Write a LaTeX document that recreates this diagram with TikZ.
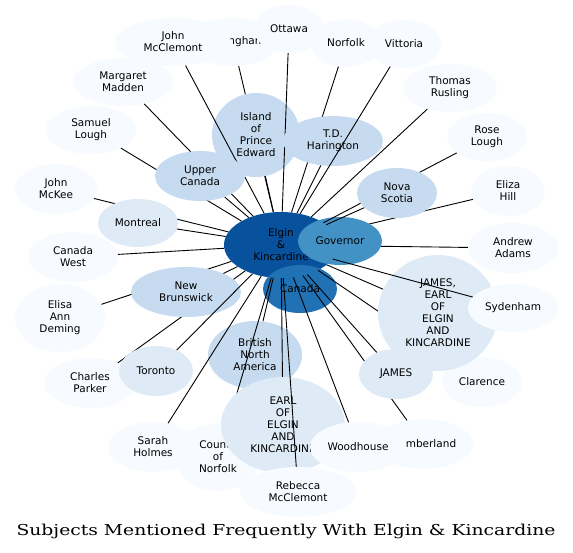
\documentclass[tikz,border=0pt]{standalone}
\usepackage{fontspec}
\setmainfont{DejaVu Sans}
\newfontfamily\titlefont{DejaVu Serif}
\usepackage{tikz}
\usetikzlibrary{shapes.geometric}
\definecolor{blhub}{RGB}{8,81,156}
\definecolor{blcan}{RGB}{33,113,181}
\definecolor{blgov}{RGB}{66,146,198}
\definecolor{blmid}{RGB}{198,219,239}
\definecolor{bllight}{RGB}{222,235,247}
\definecolor{blfaint}{RGB}{247,251,255}

\begin{document}
\begin{tikzpicture}[
    x=1pt, y=-1pt,
    topic/.style={
        ellipse, inner sep=0pt, align=center,
        font=\fontsize{10.5}{12}\selectfont
    },
    wh/.style 2 args={minimum width=#1pt, minimum height=#2pt},
    hub/.style={topic, fill=blhub},
    canada/.style={topic, fill=blcan},
    gov/.style={topic, fill=blgov},
    mid/.style={topic, fill=blmid},
    light/.style={topic, fill=bllight},
    faint/.style={topic, fill=blfaint},
    link/.style={draw=black, line width=0.9pt}
]
\useasboundingbox (0,0) rectangle (573,552);

\node[hub, wh={114}{66}] (elgin) at (281,245) {Elgin\\\&\\Kincardine};
\node[canada, wh={74}{48}] (canada) at (300,289) {Canada};

\node[faint, wh={92}{48}] (walsingham) at (233,42) {Walsingham};
\draw[link] (elgin) -- (walsingham);
\node[faint, wh={90}{48}] (slough) at (91,130) {Samuel\\Lough};
\draw[link] (elgin) -- (slough);
\node[faint, wh={100}{48}] (mmadden) at (123,82) {Margaret\\Madden};
\draw[link] (elgin) -- (mmadden);
\node[mid, wh={88}{84}] (island) at (256,135) {Island\\of\\Prince\\Edward};
\draw[link] (elgin) -- (island);
\node[faint, wh={116}{48}] (jmcclemont) at (173,42) {John\\McClemont};
\draw[link] (elgin) -- (jmcclemont);
\node[mid, wh={90}{50}] (upper) at (200,176) {Upper\\Canada};
\draw[link] (elgin) -- (upper);
\node[faint, wh={70}{48}] (ottawa) at (289,29) {Ottawa};
\draw[link] (elgin) -- (ottawa);
\node[faint, wh={70}{48}] (norfolk) at (346,43) {Norfolk};
\draw[link] (elgin) -- (norfolk);
\node[mid, wh={100}{50}] (harington) at (333,141) {T.D.\\Harington};
\draw[link] (elgin) -- (harington);
\node[faint, wh={74}{48}] (vittoria) at (404,44) {Vittoria};
\draw[link] (elgin) -- (vittoria);
\node[faint, wh={94}{48}] (rusling) at (450,88) {Thomas\\Rusling};
\draw[link] (elgin) -- (rusling);

\node[faint, wh={82}{50}] (mckee) at (56,189) {John\\McKee};
\draw[link] (elgin) -- (mckee);
\node[light, wh={80}{48}] (montreal) at (138,223) {Montreal};
\draw[link] (elgin) -- (montreal);
\node[faint, wh={90}{50}] (cwest) at (73,257) {Canada\\West};
\draw[link] (elgin) -- (cwest);
\node[faint, wh={90}{68}] (deming) at (60,318) {Elisa\\Ann\\Deming};
\draw[link] (elgin) -- (deming);
\node[faint, wh={92}{50}] (parker) at (90,383) {Charles\\Parker};
\draw[link] (elgin) -- (parker);
\node[mid, wh={110}{50}] (brunswick) at (186,292) {New\\Brunswick};
\draw[link] (elgin) -- (brunswick);
\node[light, wh={74}{50}] (toronto) at (156,371) {Toronto};
\draw[link] (elgin) -- (toronto);

\node[mid, wh={94}{68}] (bna) at (255,355) {British\\North\\America};
\draw[link] (elgin) -- (bna);
\node[faint, wh={90}{50}] (holmes) at (153,447) {Sarah\\Holmes};
\draw[link] (elgin) -- (holmes);
\node[faint, wh={84}{68}] (county) at (218,457) {County\\of\\Norfolk};
\draw[link] (elgin) -- (county);
\node[light, wh={124}{96}] (earl) at (283,425) {EARL\\OF\\ELGIN\\AND\\KINCARDINE};
\draw[link] (elgin) -- (earl);
\node[faint, wh={116}{50}] (rmcclemont) at (298,492) {Rebecca\\McClemont};
\draw[link] (elgin) -- (rmcclemont);
\node[faint, wh={98}{50}] (cumberland) at (424,444) {Cumberland};
\draw[link] (elgin) -- (cumberland);
\node[faint, wh={96}{50}] (woodhouse) at (358,447) {Woodhouse};
\draw[link] (elgin) -- (woodhouse);
\node[faint, wh={80}{50}] (clarence) at (482,382) {Clarence};
\draw[link] (elgin) -- (clarence);
\node[light, wh={120}{116}] (jearl) at (438,313) {JAMES,\\EARL\\OF\\ELGIN\\AND\\KINCARDINE};
\draw[link] (elgin) -- (jearl);
\node[light, wh={74}{50}] (james) at (396,374) {JAMES};
\draw[link] (elgin) -- (james);

\node[faint, wh={74}{50}] (ehill) at (508,191) {Eliza\\Hill};
\draw[link] (elgin) -- (ehill);
\node[faint, wh={90}{50}] (aadams) at (513,248) {Andrew\\Adams};
\draw[link] (elgin) -- (aadams);
\node[gov, wh={84}{48}] (governor) at (340,241) {Governor};
\node[faint, wh={80}{48}] (rlough) at (487,137) {Rose\\Lough};
\draw[link] (elgin) -- (rlough);
\node[mid, wh={80}{50}] (nscotia) at (397,193) {Nova\\Scotia};
\draw[link] (elgin) -- (nscotia);
\node[faint, wh={90}{48}] (sydenham) at (513,308) {Sydenham};
\draw[link] (elgin) -- (sydenham);

\node[font=\titlefont\fontsize{15}{18}\selectfont] (title) at (286,531) {\scalebox{1.25}[1]{Subjects Mentioned Frequently With Elgin \& Kincardine}};

\end{tikzpicture}
\end{document}
